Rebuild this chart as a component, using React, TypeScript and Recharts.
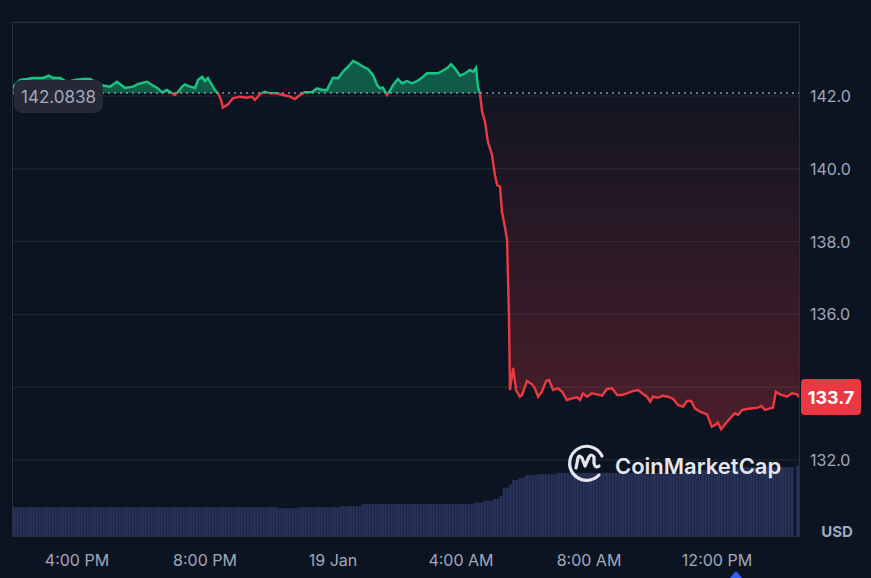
import React from 'react';
import { ComposedChart, BarChart, Area, Bar, XAxis, YAxis, CartesianGrid, ReferenceLine } from 'recharts';

// Hours relative to 00:00, 19 Jan
const priceHours = [
  -10.03, -9.78, -9.56, -9.38, -9.06, -8.88, -8.75, -8.53, -8.31, -8.06,
  -7.81, -7.59, -7.28, -6.97, -6.75, -6.59, -6.5, -6.25, -6.09, -5.81,
  -5.66, -5.5, -5.34, -5.19, -5.03, -4.94, -4.84, -4.72, -4.63, -4.47,
  -4.31, -4.22, -4.09, -4.0, -3.91, -3.78, -3.69, -3.59, -3.5, -3.44,
  -3.28, -3.13, -2.91, -2.69, -2.53, -2.44, -2.28, -2.13, -1.97, -1.75,
  -1.56, -1.34, -1.19, -1.03, -0.88, -0.66, -0.5, -0.34, -0.19, 0,
  0.16, 0.31, 0.47, 0.63, 0.78, 0.94, 1.09, 1.25, 1.38, 1.47,
  1.56, 1.69, 1.75, 1.88, 2.03, 2.16, 2.31, 2.47, 2.63, 2.78,
  2.94, 3.13, 3.28, 3.41, 3.56, 3.69, 3.81, 3.97, 4.13, 4.28,
  4.38, 4.47, 4.53, 4.59, 4.66, 4.75, 4.84, 4.97, 5.06, 5.13,
  5.22, 5.28, 5.38, 5.44, 5.5, 5.53, 5.63, 5.72, 5.84, 5.91,
  6.06, 6.22, 6.31, 6.41, 6.53, 6.66, 6.75, 6.88, 7.03, 7.16,
  7.31, 7.47, 7.63, 7.72, 7.81, 7.94, 8.09, 8.25, 8.41, 8.56,
  8.72, 8.88, 9.03, 9.19, 9.38, 9.53, 9.66, 9.81, 9.91, 10.0,
  10.16, 10.31, 10.47, 10.63, 10.78, 10.94, 11.06, 11.19, 11.31, 11.47,
  11.69, 11.84, 11.94, 12.03, 12.13, 12.25, 12.41, 12.56, 12.66, 12.78,
  12.94, 13.13, 13.28, 13.38, 13.5, 13.66, 13.75, 13.84, 13.97, 14.19,
  14.34, 14.5, 14.56,
];

const prices = [
  142.220, 142.440, 142.467, 142.495, 142.495, 142.558, 142.495, 142.495, 142.385, 142.440,
  142.467, 142.467, 142.302, 142.255, 142.393, 142.283, 142.220, 142.255, 142.330, 142.393,
  142.302, 142.228, 142.102, 142.165, 142.074, 142.027, 142.110, 142.255, 142.321, 142.255,
  142.220, 142.440, 142.530, 142.412, 142.495, 142.302, 142.165, 142.074, 141.890, 141.679,
  141.772, 141.937, 141.981, 141.953, 141.981, 141.890, 142.047, 142.118, 142.074, 142.074,
  142.027, 141.981, 141.918, 142.027, 142.102, 142.102, 142.212, 142.165, 142.165, 142.503,
  142.486, 142.668, 142.805, 142.962, 142.898, 142.805, 142.742, 142.577, 142.302, 142.212,
  142.228, 142.027, 142.102, 142.302, 142.467, 142.349, 142.412, 142.349, 142.412, 142.503,
  142.624, 142.624, 142.624, 142.687, 142.761, 142.871, 142.761, 142.558, 142.624, 142.714,
  142.668, 142.777, 142.255, 142.074, 141.569, 141.294, 140.745, 140.379, 139.830, 139.555,
  139.508, 138.821, 138.365, 138.044, 135.901, 133.923, 134.527, 133.923, 133.739, 133.786,
  134.170, 134.080, 133.970, 133.739, 133.876, 134.170, 134.198, 133.923, 133.970, 133.876,
  133.648, 133.695, 133.723, 133.648, 133.832, 133.739, 133.832, 133.805, 133.766, 133.951,
  133.970, 133.786, 133.786, 133.832, 133.896, 133.923, 133.832, 133.739, 133.602, 133.739,
  133.712, 133.766, 133.739, 133.676, 133.511, 133.464, 133.621, 133.621, 133.420, 133.327,
  133.255, 132.915, 132.962, 133.025, 132.843, 132.981, 133.146, 133.283, 133.236, 133.374,
  133.401, 133.420, 133.437, 133.492, 133.374, 133.420, 133.437, 133.876, 133.805, 133.739,
  133.832, 133.805, 133.731,
];

const openPrice = 142.0838;

// Volume bars, one per 6-minute bucket starting at volumeStartHour
const volumeStartHour = -9.95;
const volumeStepHours = 0.1;
const volumes = [
  56, 56, 56, 56, 56, 56, 56, 56, 56, 56, 56, 56, 56, 56, 56, 56, 56, 56, 56, 56,
  56, 56, 56, 56, 56, 56, 56, 56, 56, 56, 56, 56, 56, 56, 56, 56, 56, 56, 56, 56,
  56, 56, 56, 56, 56, 56, 56, 56, 56, 56, 56, 56, 56, 56, 56, 56, 56, 56, 56, 56,
  56, 56, 56, 56, 56, 56, 56, 56, 56, 56, 56, 56, 56, 56, 56, 56, 56, 56, 56, 56,
  56, 56, 56, 54, 54, 54, 54, 54, 54, 56, 56, 56, 56, 56, 56, 56, 56, 56, 56, 56,
  56, 56, 58, 58, 58, 58, 58, 58, 58, 62, 62, 62, 62, 62, 62, 62, 62, 62, 62, 62,
  62, 62, 62, 62, 62, 62, 62, 62, 62, 62, 62, 62, 62, 62, 62, 62, 62, 62, 62, 62,
  62, 62, 62, 62, 65, 65, 65, 69, 69, 69, 72, 72, 78, 94, 94, 100, 109, 109, 113, 113,
  118, 118, 118, 120, 120, 120, 120, 120, 120, 120, 123, 123, 123, 123, 123, 123, 123, 123, 123, 123,
  123, 123, 123, 123, 123, 123, 123, 123, 123, 123, 123, 123, 123, 123, 123, 123, 123, 123, 123, 123,
  123, 123, 123, 123, 123, 123, 123, 123, 123, 123, 128, 128, 128, 128, 128, 128, 128, 128, 128, 128,
  128, 128, 128, 128, 128, 128, 134, 134, 134, 134, 134, 134, 134, 134, 134, 134, 134, 134, 134, 134,
  134, 134, 134, 134,
];
const lastVolumeHour = 14.52;
const lastVolume = 137;

const xTicks = [-8, -4, 0, 4, 8, 12];
const xTickLabels = ['4:00 PM', '8:00 PM', '19 Jan', '4:00 AM', '8:00 AM', '12:00 PM'];
const yTicks = [132, 134, 136, 138, 140, 142];

const GREEN = '#16c784';
const RED = '#ea3943';
const BG = '#0d1421';
const TEXT = '#a1a7bb';
const FONT = 'Inter, "Noto Sans", sans-serif';
const X_DOMAIN: [number, number] = [-10.031, 14.594];
const MARGIN = { top: 22, right: 0, bottom: 0, left: 12 };
// hidden axes reserve no room, so the volume layer carries the axis room in its margin
const VOL_MARGIN = { top: 22, right: 71, bottom: 42, left: 12 };

const priceRows = priceHours.map((t, i) => ({ t, price: prices[i] }));
const volumeRows = volumes.map((v, i) => ({ t: +(volumeStartHour + i * volumeStepHours).toFixed(2), volume: v }));
volumeRows.push({ t: lastVolumeHour, volume: lastVolume });

const maxP = Math.max(...prices);
const minP = Math.min(...prices);
const off = (maxP - openPrice) / (maxP - minP);
const lastPrice = prices[prices.length - 1];

const XTick = (props: any) => {
  const { x, y, payload } = props;
  const idx = xTicks.indexOf(payload.value);
  return (
    <text x={x} y={y} textAnchor="middle" dominantBaseline="central" fill={TEXT} fontSize={16} fontFamily={FONT}>
      {xTickLabels[idx]}
    </text>
  );
};

const YTick = (props: any) => {
  const { x, y, payload } = props;
  // the last-price badge covers the tick label that sits beside it
  if (Math.abs(payload.value - lastPrice) < 0.6) return <g />;
  return (
    <text x={x} y={y} textAnchor="start" dominantBaseline="central" fill={TEXT} fontSize={16} fontFamily={FONT}>
      {Number(payload.value).toFixed(1)}
    </text>
  );
};

const OpenLabel = (props: any) => {
  const vb = props.viewBox || {};
  const x = vb.x ?? 12;
  const y = vb.y ?? 93;
  return (
    <g>
      <rect x={x + 2} y={y - 13} width={89} height={33} rx={8} fill="#242935" />
      <text x={x + 46.5} y={y + 4} textAnchor="middle" dominantBaseline="central" fill={TEXT} fontSize={17} fontFamily={FONT}>
        {openPrice.toFixed(4)}
      </text>
    </g>
  );
};

const LastLabel = (props: any) => {
  const vb = props.viewBox || {};
  const x = (vb.x ?? 12) + (vb.width ?? 788);
  const y = vb.y ?? 397;
  return (
    <g>
      <rect x={x + 1} y={y - 18} width={60} height={36} rx={4} fill={RED} />
      <text x={x + 31} y={y + 1} textAnchor="middle" dominantBaseline="central" fill="#ffffff" fontSize={18} fontWeight={700} fontFamily={FONT}>
        {lastPrice.toFixed(1)}
      </text>
    </g>
  );
};

export default function App() {
  return (
    <div style={{ position: 'absolute', left: 0, top: 0, width: 871, height: 578, background: BG, overflow: 'hidden' }}>
      {/* volume layer */}
      <div style={{ position: 'absolute', left: 0, top: 0 }}>
        <BarChart width={871} height={578} data={volumeRows} margin={VOL_MARGIN} barCategoryGap={0}>
          <XAxis dataKey="t" type="number" domain={X_DOMAIN} allowDataOverflow hide />
          <YAxis hide domain={[0, 1000]} allowDataOverflow />
          <Bar dataKey="volume" barSize={3} fill="#273157" isAnimationActive={false} />
        </BarChart>
      </div>

      {/* price layer */}
      <div style={{ position: 'absolute', left: 0, top: 0 }}>
        <ComposedChart width={871} height={578} data={priceRows} margin={MARGIN}>
          <defs>
            <linearGradient id="priceStroke" x1="0" y1="0" x2="0" y2="1">
              <stop offset={0} stopColor={GREEN} />
              <stop offset={off} stopColor={GREEN} />
              <stop offset={off} stopColor={RED} />
              <stop offset={1} stopColor={RED} />
            </linearGradient>
            <linearGradient id="priceFill" x1="0" y1="0" x2="0" y2="1">
              <stop offset={0} stopColor={GREEN} stopOpacity={0.4} />
              <stop offset={off} stopColor={GREEN} stopOpacity={0.4} />
              <stop offset={off} stopColor={RED} stopOpacity={0.02} />
              <stop offset={1} stopColor={RED} stopOpacity={0.28} />
            </linearGradient>
          </defs>
          <CartesianGrid vertical={false} stroke="#252a36" strokeWidth={1} />
          <XAxis
            dataKey="t"
            type="number"
            domain={X_DOMAIN}
            allowDataOverflow
            ticks={xTicks}
            tick={<XTick />}
            tickLine={false}
            axisLine={false}
            tickSize={0}
            tickMargin={24}
            height={42}
            interval={0}
          />
          <YAxis
            orientation="right"
            type="number"
            domain={[129.912, 144.033]}
            allowDataOverflow
            ticks={yTicks}
            tick={<YTick />}
            tickLine={false}
            axisLine={false}
            tickSize={0}
            tickMargin={10}
            width={71}
            interval={0}
          />
          <Area
            type="linear"
            dataKey="price"
            baseValue={openPrice}
            stroke="url(#priceStroke)"
            strokeWidth={2.4}
            fill="url(#priceFill)"
            fillOpacity={1}
            dot={false}
            activeDot={false}
            isAnimationActive={false}
          />
          <ReferenceLine
            y={openPrice}
            stroke="#8d94a5"
            strokeWidth={1.5}
            strokeDasharray="2 4"
            label={OpenLabel}
          />
          <ReferenceLine y={lastPrice} stroke="none" strokeOpacity={0} label={LastLabel} />
        </ComposedChart>
      </div>

      {/* plot frame */}
      <div style={{ position: 'absolute', left: 12, top: 22, width: 788, height: 515, boxSizing: 'border-box', border: '1px solid #2a2f3b', pointerEvents: 'none' }} />

      {/* watermark */}
      <svg style={{ position: 'absolute', left: 560, top: 440, pointerEvents: 'none' }} width={230} height={50}>
        <g transform="translate(6,4)" fill="none" stroke="#e4e6eb" strokeWidth={3.2} strokeLinecap="round" strokeLinejoin="round">
          <path d="M 33 31 A 17 17 0 1 1 36 12" />
          <path d="M 10 24 L 12 14 Q 13 10 16 14 L 19 22 L 23 13 Q 25 9 28 13 L 28 19 Q 29 25 33 22" />
        </g>
        <text x={55} y={34} fill="#e4e6eb" fontSize={22} fontWeight={600} fontFamily={FONT}>CoinMarketCap</text>
      </svg>

      {/* unit label */}
      <div style={{ position: 'absolute', left: 811, top: 522, width: 52, textAlign: 'center', color: TEXT, fontFamily: FONT, fontSize: 15, fontWeight: 700, lineHeight: '20px' }}>USD</div>

      {/* current-time marker */}
      <svg style={{ position: 'absolute', left: 728, top: 568 }} width={16} height={10}>
        <polygon points="2,10 14,10 8,3" fill="#3861fb" />
      </svg>
    </div>
  );
}
